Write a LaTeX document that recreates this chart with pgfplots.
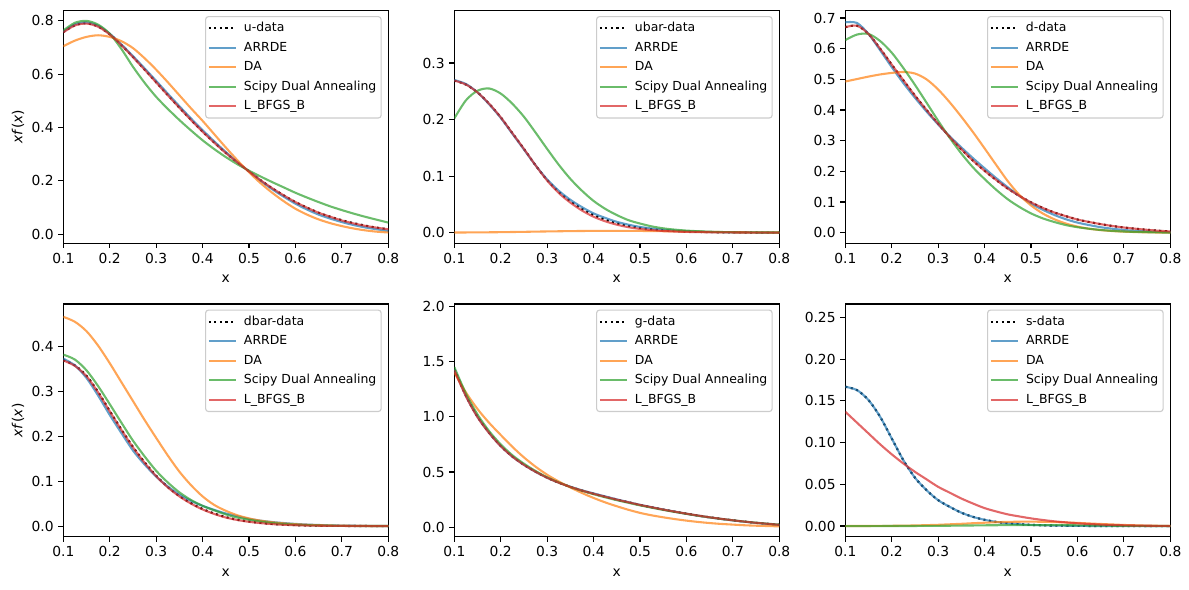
\documentclass[border=0pt]{standalone}
\usepackage{fontspec}
\setmainfont{DejaVu Sans}
\usepackage{pgfplots}
\pgfplotsset{compat=1.18}
\usepackage{pgfplotstable}

\definecolor{tabblue}{HTML}{1F77B4}
\definecolor{taborange}{HTML}{FF7F0E}
\definecolor{tabgreen}{HTML}{2CA02C}
\definecolor{tabred}{HTML}{D62728}
\definecolor{legframe}{gray}{0.8}

% columns: x, reference data, ARRDE, DA, Scipy dual annealing, L-BFGS-B
\pgfplotstableread{
x     data   arrde  da     sda    lbfgs
0.100 0.758  0.760  0.705  0.764  0.757
0.125 0.784  0.787  0.726  0.793  0.783
0.150 0.791  0.794  0.740  0.800  0.790
0.175 0.779  0.782  0.746  0.786  0.778
0.200 0.750  0.752  0.740  0.752  0.749
0.225 0.710  0.712  0.724  0.695  0.709
0.250 0.665  0.668  0.698  0.628  0.664
0.275 0.618  0.622  0.660  0.568  0.617
0.300 0.570  0.575  0.617  0.515  0.569
0.325 0.522  0.527  0.570  0.470  0.521
0.350 0.475  0.480  0.521  0.428  0.474
0.375 0.429  0.434  0.472  0.389  0.428
0.400 0.385  0.390  0.425  0.352  0.384
0.425 0.344  0.348  0.375  0.319  0.343
0.450 0.305  0.308  0.325  0.289  0.304
0.475 0.269  0.270  0.277  0.262  0.269
0.500 0.235  0.235  0.232  0.238  0.235
0.525 0.202  0.200  0.191  0.216  0.202
0.550 0.172  0.168  0.155  0.195  0.172
0.575 0.145  0.140  0.123  0.175  0.145
0.600 0.120  0.114  0.095  0.155  0.120
0.625 0.099  0.092  0.073  0.137  0.099
0.650 0.080  0.073  0.055  0.120  0.080
0.675 0.065  0.058  0.041  0.104  0.065
0.700 0.052  0.045  0.030  0.090  0.051
0.725 0.041  0.034  0.021  0.077  0.040
0.750 0.032  0.025  0.014  0.065  0.031
0.775 0.024  0.018  0.009  0.054  0.024
0.800 0.018  0.012  0.006  0.043  0.018
}\tu

\pgfplotstableread{
x     data   arrde  da     sda    lbfgs
0.100 0.269  0.270  0.0001 0.202  0.269
0.125 0.262  0.263  0.0002 0.234  0.262
0.150 0.248  0.248  0.0003 0.251  0.248
0.175 0.228  0.227  0.0005 0.255  0.228
0.200 0.204  0.203  0.0007 0.246  0.204
0.225 0.176  0.175  0.0010 0.228  0.176
0.250 0.148  0.147  0.0013 0.205  0.148
0.275 0.119  0.119  0.0017 0.177  0.119
0.300 0.093  0.094  0.0020 0.148  0.092
0.325 0.072  0.074  0.0023 0.120  0.070
0.350 0.0555 0.058  0.0026 0.095  0.053
0.375 0.042  0.045  0.0028 0.074  0.039
0.400 0.031  0.034  0.0030 0.056  0.028
0.425 0.023  0.026  0.0031 0.042  0.020
0.450 0.0165 0.019  0.0031 0.031  0.014
0.475 0.0118 0.014  0.0030 0.022  0.0095
0.500 0.0083 0.010  0.0029 0.016  0.0065
0.525 0.0058 0.0072 0.0027 0.011  0.0044
0.550 0.0040 0.0051 0.0024 0.0075 0.0029
0.575 0.0027 0.0036 0.0021 0.0052 0.0019
0.600 0.0018 0.0025 0.0018 0.0035 0.0012
0.625 0.0012 0.0017 0.0015 0.0024 0.0008
0.650 0.0008 0.0011 0.0012 0.0015 0.0005
0.675 0.0005 0.0007 0.0009 0.0010 0.0003
0.700 0.0003 0.0004 0.0007 0.0006 0.0002
0.725 0.0002 0.0003 0.0005 0.0004 0.0001
0.750 0.0001 0.0002 0.0003 0.0002 0.0000
0.775 0.0000 0.0001 0.0002 0.0001 0.0000
0.800 0.0000 0.0000 0.0001 0.0001 0.0000
}\tubar

\pgfplotstableread{
x     data   arrde  da     sda    lbfgs
0.100 0.670  0.686  0.493  0.628  0.670
0.125 0.675  0.684  0.501  0.646  0.675
0.150 0.648  0.648  0.509  0.648  0.648
0.175 0.600  0.595  0.516  0.625  0.600
0.200 0.548  0.540  0.521  0.587  0.548
0.225 0.497  0.488  0.524  0.537  0.497
0.250 0.447  0.440  0.519  0.482  0.447
0.275 0.400  0.395  0.500  0.424  0.400
0.300 0.355  0.353  0.467  0.365  0.355
0.325 0.312  0.314  0.425  0.309  0.312
0.350 0.272  0.278  0.378  0.258  0.272
0.375 0.235  0.243  0.328  0.213  0.235
0.400 0.202  0.210  0.275  0.175  0.202
0.425 0.172  0.178  0.221  0.140  0.172
0.450 0.144  0.148  0.168  0.109  0.144
0.475 0.120  0.120  0.123  0.084  0.120
0.500 0.099  0.095  0.089  0.063  0.099
0.525 0.081  0.075  0.063  0.047  0.081
0.550 0.066  0.058  0.044  0.035  0.066
0.575 0.054  0.044  0.030  0.025  0.054
0.600 0.043  0.033  0.020  0.018  0.043
0.625 0.035  0.025  0.013  0.013  0.035
0.650 0.028  0.018  0.0085 0.009  0.028
0.675 0.022  0.013  0.0055 0.006  0.022
0.700 0.017  0.009  0.0035 0.004  0.017
0.725 0.013  0.006  0.0022 0.0027 0.013
0.750 0.0095 0.004  0.0013 0.0017 0.0095
0.775 0.0065 0.0025 0.0007 0.0010 0.0065
0.800 0.0042 0.0015 0.0004 0.0005 0.0042
}\td

\pgfplotstableread{
x     data   arrde  da     sda    lbfgs
0.100 0.369  0.372  0.465  0.381  0.368
0.125 0.357  0.357  0.454  0.370  0.356
0.150 0.334  0.329  0.433  0.346  0.333
0.175 0.298  0.290  0.401  0.311  0.297
0.200 0.256  0.247  0.362  0.271  0.255
0.225 0.215  0.207  0.320  0.230  0.214
0.250 0.176  0.168  0.278  0.190  0.175
0.275 0.142  0.137  0.236  0.155  0.141
0.300 0.112  0.110  0.196  0.123  0.111
0.325 0.087  0.088  0.157  0.097  0.086
0.350 0.067  0.070  0.121  0.075  0.066
0.375 0.051  0.056  0.091  0.058  0.050
0.400 0.038  0.045  0.066  0.045  0.037
0.425 0.028  0.036  0.047  0.035  0.027
0.450 0.020  0.028  0.034  0.026  0.019
0.475 0.014  0.022  0.024  0.019  0.0135
0.500 0.010  0.016  0.017  0.014  0.0095
0.525 0.0070 0.012  0.012  0.010  0.0066
0.550 0.0047 0.0090 0.0085 0.0068 0.0044
0.575 0.0031 0.0067 0.0060 0.0046 0.0029
0.600 0.0020 0.0048 0.0042 0.0030 0.0019
0.625 0.0013 0.0034 0.0029 0.0020 0.0012
0.650 0.0008 0.0024 0.0020 0.0013 0.0008
0.675 0.0005 0.0016 0.0013 0.0008 0.0005
0.700 0.0003 0.0011 0.0008 0.0005 0.0003
0.725 0.0002 0.0007 0.0005 0.0003 0.0002
0.750 0.0001 0.0004 0.0003 0.0002 0.0001
0.775 0.0000 0.0002 0.0002 0.0001 0.0000
0.800 0.0000 0.0001 0.0001 0.0001 0.0000
}\tdbar

\pgfplotstableread{
x     data   arrde  da     sda    lbfgs
0.100 1.430  1.430  1.400  1.450  1.420
0.125 1.190  1.190  1.220  1.210  1.185
0.150 1.000  1.000  1.070  1.020  0.995
0.175 0.855  0.855  0.945  0.870  0.852
0.200 0.735  0.735  0.835  0.750  0.733
0.225 0.640  0.640  0.728  0.652  0.639
0.250 0.565  0.565  0.632  0.575  0.564
0.275 0.502  0.502  0.548  0.509  0.502
0.300 0.448  0.448  0.475  0.452  0.448
0.325 0.403  0.404  0.414  0.405  0.403
0.350 0.365  0.367  0.360  0.364  0.365
0.375 0.332  0.334  0.310  0.330  0.332
0.400 0.303  0.306  0.265  0.299  0.303
0.425 0.276  0.279  0.225  0.271  0.276
0.450 0.250  0.252  0.190  0.245  0.250
0.475 0.226  0.227  0.158  0.221  0.226
0.500 0.202  0.203  0.130  0.198  0.202
0.525 0.181  0.181  0.108  0.177  0.181
0.550 0.160  0.160  0.090  0.157  0.160
0.575 0.141  0.141  0.074  0.138  0.141
0.600 0.123  0.122  0.060  0.121  0.123
0.625 0.106  0.105  0.048  0.104  0.106
0.650 0.090  0.089  0.038  0.089  0.090
0.675 0.076  0.075  0.030  0.075  0.076
0.700 0.063  0.062  0.024  0.063  0.063
0.725 0.051  0.050  0.018  0.051  0.051
0.750 0.040  0.039  0.014  0.041  0.040
0.775 0.031  0.030  0.011  0.032  0.031
0.800 0.022  0.021  0.008  0.024  0.022
}\tg

\pgfplotstableread{
x     data   arrde  da     sda    lbfgs
0.100 0.167  0.167  0.0000 0.0000 0.137
0.125 0.163  0.163  0.0001 0.0000 0.124
0.150 0.151  0.151  0.0001 0.0000 0.111
0.175 0.131  0.131  0.0002 0.0000 0.098
0.200 0.105  0.105  0.0003 0.0001 0.086
0.225 0.079  0.079  0.0005 0.0001 0.075
0.250 0.058  0.058  0.0007 0.0001 0.065
0.275 0.043  0.043  0.0011 0.0002 0.056
0.300 0.031  0.031  0.0015 0.0003 0.047
0.325 0.023  0.023  0.0021 0.0004 0.040
0.350 0.016  0.016  0.0027 0.0006 0.033
0.375 0.011  0.011  0.0034 0.0007 0.027
0.400 0.0075 0.0075 0.0040 0.0009 0.0215
0.425 0.0050 0.0050 0.0046 0.0010 0.0175
0.450 0.0033 0.0033 0.0050 0.0011 0.0140
0.475 0.0022 0.0022 0.0052 0.0012 0.0115
0.500 0.0014 0.0014 0.0053 0.0012 0.0092
0.525 0.0009 0.0009 0.0051 0.0012 0.0073
0.550 0.0006 0.0006 0.0048 0.0011 0.0057
0.575 0.0004 0.0004 0.0043 0.0010 0.0044
0.600 0.0002 0.0002 0.0038 0.0009 0.0033
0.625 0.0001 0.0001 0.0031 0.0007 0.0025
0.650 0.0001 0.0001 0.0025 0.0006 0.0018
0.675 0.0000 0.0000 0.0019 0.0004 0.0013
0.700 0.0000 0.0000 0.0013 0.0003 0.0009
0.725 0.0000 0.0000 0.0009 0.0002 0.0006
0.750 0.0000 0.0000 0.0005 0.0001 0.0004
0.775 0.0000 0.0000 0.0003 0.0001 0.0002
0.800 0.0000 0.0000 0.0001 0.0000 0.0001
}\ts

\pgfplotsset{
  panel/.style={
    scale only axis, width=234bp, height=167.5bp,
    anchor=north west,
    xmin=0.1, xmax=0.8,
    xtick={0.1,0.2,0.3,0.4,0.5,0.6,0.7,0.8},
    xtick pos=left, ytick pos=left,
    tick align=outside, major tick length=3.5bp,
    tick style={black, line width=0.8bp},
    axis line style={line width=0.8bp},
    tick label style={font=\fontsize{10}{12}\selectfont},
    /pgf/number format/assume math mode=true,
    xticklabel style={/pgf/number format/.cd, fixed, fixed zerofill, precision=1},
    yticklabel style={/pgf/number format/.cd, fixed, fixed zerofill, precision=1},
    xlabel={x},
    label style={font=\fontsize{10}{12}\selectfont},
    every axis x label/.style={at={(axis description cs:0.5,-0.153)}, anchor=center},
    every axis y label/.style={at={(axis description cs:-0.139,0.5)}, anchor=center, rotate=90},
    legend cell align=left,
    legend style={at={(axis description cs:0.9797,0.9761)}, anchor=north east,
      draw=legframe, line width=0.8bp, rounded corners=2bp,
      fill=white, fill opacity=0.8, draw opacity=1, text opacity=1,
      font=\fontsize{9}{10.8}\selectfont,
      inner xsep=1.5bp, inner ysep=2bp, row sep=1bp,
      nodes={inner sep=2bp, text height=7bp, text depth=2bp}},
    legend image code/.code={\draw[#1] (0bp,0bp) -- (19.4bp,0bp); \path (22.6bp,0bp);},
  },
  dataln/.style={black, line width=1.5bp, dash pattern=on 1.5bp off 2.5bp},
  arrdeln/.style={tabblue, line width=1.5bp, draw opacity=0.7, smooth},
  daln/.style={taborange, line width=1.5bp, draw opacity=0.7, smooth},
  sdaln/.style={tabgreen, line width=1.5bp, draw opacity=0.7, smooth},
  lbfgsln/.style={tabred, line width=1.5bp, draw opacity=0.7, smooth},
}

% draws the five curves of one parton table with its legend
\newcommand{\curves}[2]{%
  \addplot[dataln, smooth] table[x=x, y=data]{#1};
  \addlegendentry{#2-data}
  \addplot[arrdeln] table[x=x, y=arrde]{#1};
  \addlegendentry{ARRDE}
  \addplot[daln] table[x=x, y=da]{#1};
  \addlegendentry{DA}
  \addplot[sdaln] table[x=x, y=sda]{#1};
  \addlegendentry{Scipy Dual Annealing}
  \addplot[lbfgsln] table[x=x, y=lbfgs]{#1};
  \addlegendentry{L\_BFGS\_B}
}

\begin{document}
\begin{tikzpicture}
\path[use as bounding box] (0bp,0bp) rectangle (856.08bp,-424.8bp);

\begin{axis}[panel, at={(45.58bp,-7.56bp)},
  ymin=-0.034, ymax=0.839, ytick={0,0.2,0.4,0.6,0.8},
  ylabel={\textit{xf}(\textit{x})}]
\curves{\tu}{u}
\end{axis}

\begin{axis}[panel, at={(327.10bp,-7.56bp)},
  ymin=-0.0187, ymax=0.393, ytick={0,0.1,0.2,0.3}]
\curves{\tubar}{ubar}
\end{axis}

\begin{axis}[panel, at={(608.62bp,-7.56bp)},
  ymin=-0.034, ymax=0.7245, ytick={0,0.1,0.2,0.3,0.4,0.5,0.6,0.7}]
\curves{\td}{d}
\end{axis}

\begin{axis}[panel, at={(45.58bp,-218.88bp)},
  ymin=-0.0235, ymax=0.4935, ytick={0,0.1,0.2,0.3,0.4},
  ylabel={\textit{xf}(\textit{x})}]
\curves{\tdbar}{dbar}
\end{axis}

\begin{axis}[panel, at={(327.10bp,-218.88bp)},
  ymin=-0.085, ymax=2.02, ytick={0,0.5,1,1.5,2}]
\curves{\tg}{g}
\end{axis}

\begin{axis}[panel, at={(608.62bp,-218.88bp)},
  ymin=-0.0127, ymax=0.2662, ytick={0,0.05,0.1,0.15,0.2,0.25},
  yticklabel style={/pgf/number format/.cd, fixed, fixed zerofill, precision=2}]
\curves{\ts}{s}
\end{axis}
\end{tikzpicture}
\end{document}
